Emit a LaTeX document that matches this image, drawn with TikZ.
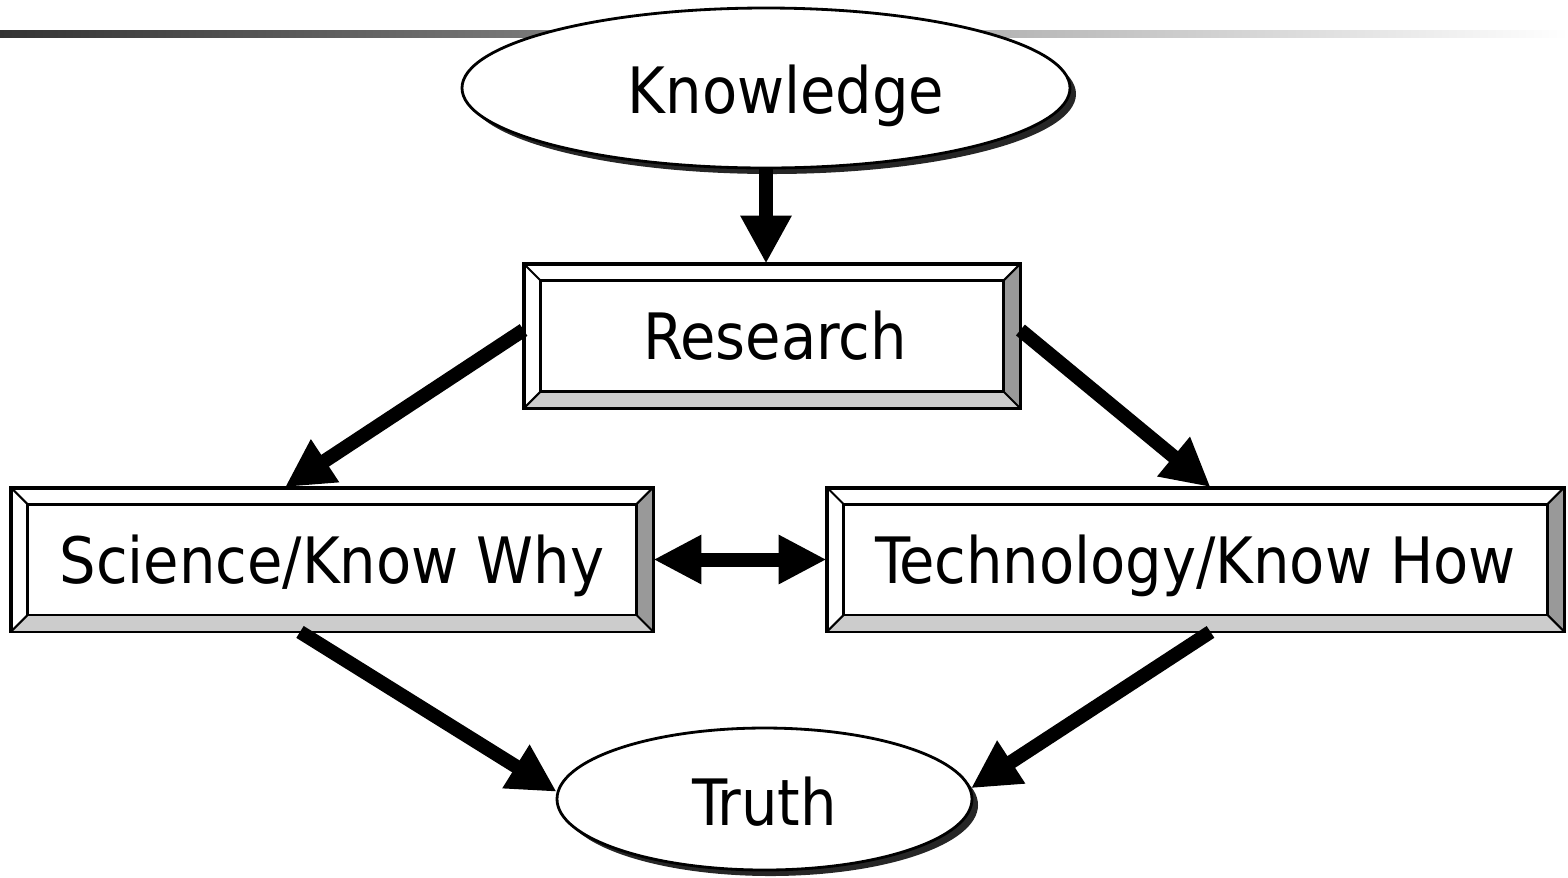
\documentclass[tikz,border=0pt]{standalone}
\usepackage{fontspec}
\setmainfont{DejaVu Sans Condensed}
\usetikzlibrary{arrows.meta,shapes.geometric,shadows,positioning}

\tikzset{
  ovalnode/.style={ellipse, draw, line width=0.8pt, fill=white, inner sep=0pt,
    drop shadow={shadow xshift=0.6mm, shadow yshift=-0.6mm, fill=black, opacity=0.85}},
  bevelbox/.style={rectangle, draw, line width=0.8pt, fill=white, inner sep=0pt,
    minimum height=1.42cm},
  labeltext/.style={font=\fontsize{18.2}{22}\selectfont},
  bigarrow/.style={line width=1.4mm, -{Triangle[length=4.8mm,width=4.8mm]}},
  bevright/.style={fill=black!40},
  bevbottom/.style={fill=black!20}
}

% bevel frame round a named box
\newcommand{\bevel}[1]{%
  \fill[bevright] (#1.north east) -- (#1.south east) -- ([shift={(-0.17,0.17)}]#1.south east) -- ([shift={(-0.17,-0.17)}]#1.north east) -- cycle;
  \fill[bevbottom] (#1.south west) -- (#1.south east) -- ([shift={(-0.17,0.17)}]#1.south east) -- ([shift={(0.17,0.17)}]#1.south west) -- cycle;
  \draw[line width=0.8pt] (#1.north west) rectangle (#1.south east);
  \draw[line width=0.8pt] ([shift={(0.17,-0.17)}]#1.north west) rectangle ([shift={(-0.17,0.17)}]#1.south east);
  \draw[line width=0.6pt] (#1.north west) -- ([shift={(0.17,-0.17)}]#1.north west);
  \draw[line width=0.6pt] (#1.north east) -- ([shift={(-0.17,-0.17)}]#1.north east);
  \draw[line width=0.6pt] (#1.south west) -- ([shift={(0.17,0.17)}]#1.south west);
  \draw[line width=0.6pt] (#1.south east) -- ([shift={(-0.17,0.17)}]#1.south east);
}

\begin{document}
\begin{tikzpicture}
\useasboundingbox (0,0) rectangle (15.68,-8.77);
\shade[left color=black!80, right color=white] (0,-0.30) rectangle (15.68,-0.37);

\node[ovalnode, minimum width=6.08cm, minimum height=1.6cm] (know) at (7.66,-0.88) {};
\node[bevelbox, minimum width=4.94cm] (res) at (7.72,-3.36) {};
\node[bevelbox, minimum width=6.40cm] (sci) at (3.32,-5.595) {};
\node[bevelbox, minimum width=7.35cm] (tech) at (11.955,-5.595) {};
\node[ovalnode, minimum width=4.15cm, minimum height=1.42cm] (truth) at (7.645,-7.99) {};

\bevel{res}
\bevel{sci}
\bevel{tech}
\node[labeltext] (knowtxt) at ([xshift=0.2cm,yshift=-0.08cm]know.center) {Knowledge};
\node[labeltext] (restxt) at ([xshift=0.03cm]res.center) {Research};
\node[labeltext] (scitxt) at ([yshift=-0.06cm]sci.center) {Science/Know Why};
\node[labeltext] (techtxt) at ([yshift=-0.06cm]tech.center) {Technology/Know How};
\node[labeltext] (truthtxt) at ([yshift=-0.03cm]truth.center) {Truth};

\draw[bigarrow] (know.south) -- (know.south |- res.north);
\draw[bigarrow] ([yshift=0.06cm]res.west) -- ([xshift=-0.47cm]sci.north);
\draw[bigarrow] ([yshift=0.06cm]res.east) -- ([xshift=0.15cm]tech.north);
\draw[bigarrow] ([xshift=-0.32cm]sci.south) -- (truth.178);
\draw[bigarrow] ([xshift=0.15cm]tech.south) -- (truth.3);
\draw[line width=1.4mm, {Triangle[length=4.8mm,width=4.6mm]}-{Triangle[length=4.8mm,width=4.6mm]}] (sci.east) -- (tech.west);
\end{tikzpicture}
\end{document}
